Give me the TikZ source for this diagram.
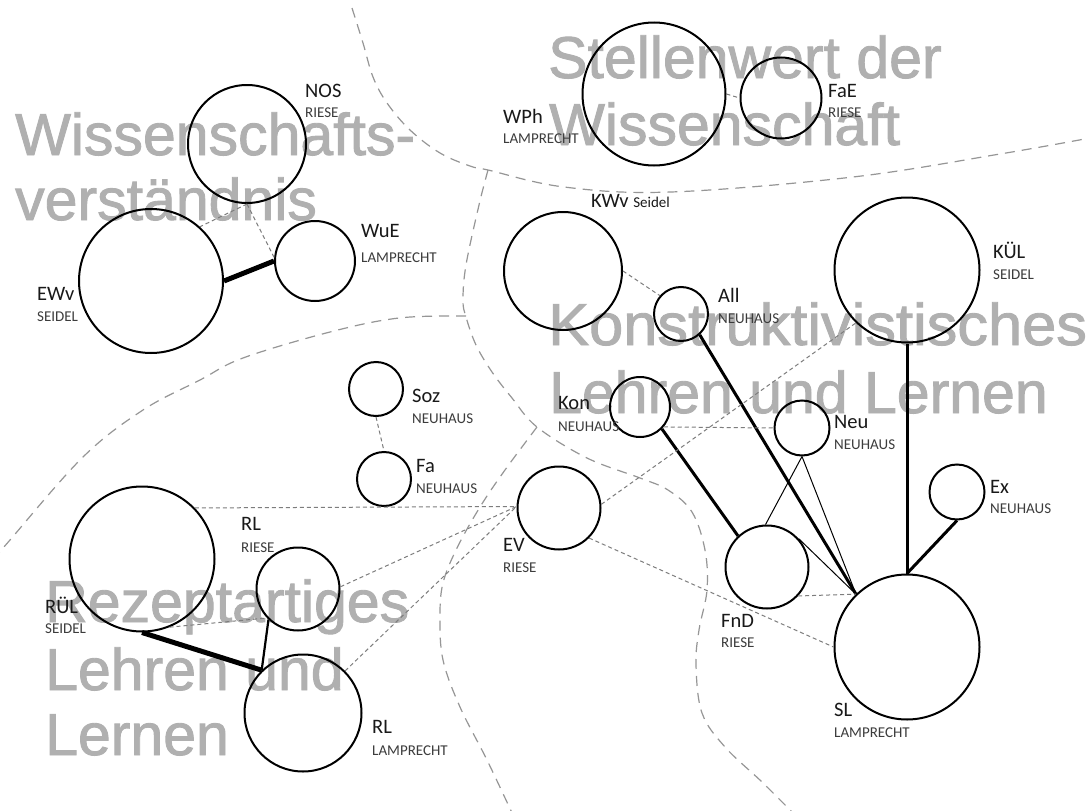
\documentclass[tikz,border=0pt]{standalone}
\usepackage{fontspec}
\setmainfont{Carlito}
\newfontfamily\titlefont{Liberation Sans}[FakeBold=1.5]
\usepackage{graphicx}
\definecolor{titlegray}{RGB}{176,176,176}
\definecolor{regiongray}{RGB}{150,150,150}
\definecolor{conngray}{RGB}{125,125,125}
\definecolor{labdark}{RGB}{25,25,25}
\definecolor{subdark}{RGB}{60,60,60}
\begin{document}
\begin{tikzpicture}[x=1pt,y=-1pt,
  circ/.style={circle, draw=black, line width=2pt, inner sep=0pt, minimum size=#1},
  titlelab/.style={anchor=base west, inner sep=0pt, text=titlegray, font=\titlefont\fontsize{59}{65}\selectfont},
  namelab/.style={anchor=base west, inner sep=0pt, text=labdark, font=\fontsize{20.5}{24}\selectfont},
  sublab/.style={anchor=base west, inner sep=0pt, text=subdark, font=\fontsize{15}{18}\selectfont},
  region/.style={draw=regiongray, line width=1.2pt, dash pattern=on 10pt off 7pt},
  conn/.style={draw=conngray, line width=1pt, dash pattern=on 4pt off 3pt},
  heavy/.style={draw=black, line width=5pt},
  strong/.style={draw=black, line width=3pt},
  midline/.style={draw=black, line width=2.2pt},
  thinline/.style={draw=black, line width=1pt}
]
\useasboundingbox (0,0) rectangle (1088,811);
\fill[white] (0,0) rectangle (1088,811);

% region titles
\node[titlelab] (t1a) at (15,155) {Wissenschafts-};
\node[titlelab] (t1b) at (15,220) {verständnis};
\node[titlelab] (t2a) at (548,78) {Stellenwert der};
\node[titlelab] (t2b) at (549,145) {Wissenschaft};
\node[titlelab] (t3a) at (548,345) {\scalebox{1.04}[1]{Konstruktivistisches}};
\node[titlelab] (t3b) at (549,413) {Lehren und Lernen};
\node[titlelab] (t4a) at (45,622) {Rezeptartiges};
\node[titlelab] (t4b) at (45,690) {Lehren und};
\node[titlelab] (t4c) at (45,755) {Lernen};

% region boundaries
\draw[region] plot[smooth, tension=0.6] coordinates {(352,8) (363,43) (373,77) (387,103) (410,130) (440,153) (470,166) (488,170) (564,187) (671,192) (853,177) (1000,154) (1090,138)};
\draw[region] plot[smooth, tension=0.6] coordinates {(488,170) (479,205) (466,265) (463,300) (466,317) (476,345) (492,372) (512,398) (537,427) (587,458) (640,478) (668,490) (692,512) (705,550) (707,590) (699,630) (696,665) (702,713) (725,747) (762,782) (795,815)};
\draw[region] plot[smooth, tension=0.6] coordinates {(466,316) (399,318) (330,332) (243,358) (200,380) (143,410) (83,457) (10,540) (-5,558)};
\draw[region] plot[smooth, tension=0.6] coordinates {(537,427) (505,470) (480,507) (457,548) (443,583) (440,617) (443,660) (460,707) (487,760) (513,815)};

% circles
\node[circ=118] (nos) at (247,144) {};
\node[circ=80] (wue) at (315,261) {};
\node[circ=144] (ewv) at (151,281) {};
\node[circ=143] (wph) at (654,94) {};
\node[circ=81] (fae) at (781,98) {};
\node[circ=118] (kwv) at (563,271) {};
\node[circ=54] (all) at (681,314) {};
\node[circ=145] (kul) at (907,270) {};
\node[circ=60] (kon) at (640,407) {};
\node[circ=55] (neu) at (802,428) {};
\node[circ=55] (ex) at (957,492) {};
\node[circ=83] (fnd) at (767,567) {};
\node[circ=145] (sl) at (907,647) {};
\node[circ=83] (ev) at (559,508) {};
\node[circ=54] (soz) at (376,389) {};
\node[circ=54] (fa) at (384,479) {};
\node[circ=145] (rul) at (142,559) {};
\node[circ=83] (rlr) at (298,589) {};
\node[circ=117] (rll) at (303,713) {};

% labels
\node[namelab] (nosN) at (305,97) {NOS};
\node[sublab] (nosS) at (305,117) {RIESE};
\node[namelab] (wueN) at (361,237) {WuE};
\node[sublab] (wueS) at (361,262) {LAMPRECHT};
\node[namelab] (ewvN) at (37,300) {EWv};
\node[sublab] (ewvS) at (37,321) {SEIDEL};
\node[namelab] (wphN) at (503,123) {WPh};
\node[sublab] (wphS) at (503,143) {LAMPRECHT};
\node[namelab] (faeN) at (828,97) {FaE};
\node[sublab] (faeS) at (828,117) {RIESE};
\node[namelab] (kwvN) at (591,207) {KWv {\fontsize{15}{18}\selectfont Seidel}};
\node[namelab] (allN) at (718,302) {All};
\node[sublab] (allS) at (718,323) {NEUHAUS};
\node[namelab] (kulN) at (993,258) {KÜL};
\node[sublab] (kulS) at (993,279) {SEIDEL};
\node[namelab] (konN) at (558,409) {Kon};
\node[sublab] (konS) at (558,431) {NEUHAUS};
\node[namelab] (neuN) at (834,428) {Neu};
\node[sublab] (neuS) at (834,449) {NEUHAUS};
\node[namelab] (exN) at (990,493) {Ex};
\node[sublab] (exS) at (990,513) {NEUHAUS};
\node[namelab] (fndN) at (721,627) {FnD};
\node[sublab] (fndS) at (721,647) {RIESE};
\node[namelab] (slN) at (834,716) {SL};
\node[sublab] (slS) at (834,737) {LAMPRECHT};
\node[namelab] (evN) at (503,551) {EV};
\node[sublab] (evS) at (503,572) {RIESE};
\node[namelab] (sozN) at (412,402) {Soz};
\node[sublab] (sozS) at (412,423) {NEUHAUS};
\node[namelab] (faN) at (416,472) {Fa};
\node[sublab] (faS) at (416,493) {NEUHAUS};
\node[namelab] (rulN) at (45,613) {RÜL};
\node[sublab] (rulS) at (45,633) {SEIDEL};
\node[namelab] (rlrN) at (241,530) {RL};
\node[sublab] (rlrS) at (241,552) {RIESE};
\node[namelab] (rllN) at (372,733) {RL};
\node[sublab] (rllS) at (372,755) {LAMPRECHT};

% connectors
\draw[heavy] (ewv.0) -- (wue.180);
\draw[conn] (nos.south) -- (ewv.48);
\draw[conn] (nos.south) -- (wue.175);
\draw[conn] (wph.0) -- (fae.180);
\draw[conn] (kwv.0) -- (all.139);
\draw[strong] (all.312) -- (sl.134);
\draw[strong] (kul.south) -- (sl.north);
\draw[strong] (ex.south) -- (sl.north);
\draw[strong] (kon.315) -- (fnd.133);
\draw[thinline] (neu.south) -- (fnd.92);
\draw[thinline] (neu.south) -- (sl.134);
\draw[thinline] (fnd.42) -- (sl.134);
\draw[conn] (fnd.317) -- (sl.134);
\draw[conn] (kon.-40) -- (neu.west);
\draw[conn] (ev.5) -- (kul.226);
\draw[conn] (ev.315) -- (sl.180);
\draw[conn] (rul.44) -- (ev.178);
\draw[conn] (rlr.3) -- (ev.178);
\draw[conn] (rll.45) -- (ev.178);
\draw[conn] (rul.292) -- (rlr.223);
\draw[heavy] (rul.270) -- (rll.134);
\draw[midline] (rlr.226) -- (rll.134);
\draw[conn] (soz.south) -- (fa.north);
\end{tikzpicture}
\end{document}
